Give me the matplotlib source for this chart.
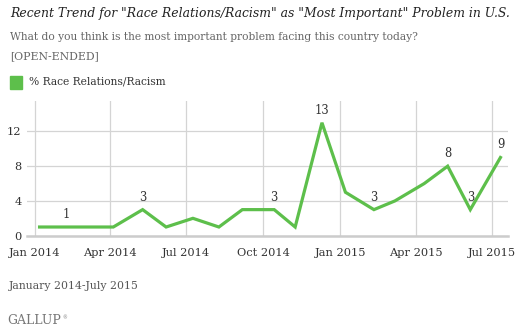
import matplotlib
matplotlib.use("Agg")
import matplotlib.pyplot as plt
import datetime as dt

# Monthly poll readings (approximate field-period midpoints)
dates = [
    "2014-01-07", "2014-02-08", "2014-03-08", "2014-04-05", "2014-05-10",
    "2014-06-07", "2014-07-09", "2014-08-09", "2014-09-06", "2014-10-14",
    "2014-11-08", "2014-12-10", "2015-01-07", "2015-02-10", "2015-03-07",
    "2015-04-11", "2015-05-09", "2015-06-05", "2015-07-11",
]
values = [1, 1, 1, 1, 3, 1, 2, 1, 3, 3, 1, 13, 5, 3, 4, 6, 8, 3, 9]

# Points that carry a value label
labelled = ["2014-02-08", "2014-05-10", "2014-10-14", "2014-12-10",
            "2015-02-10", "2015-05-09", "2015-06-05", "2015-07-11"]

tick_dates = ["2014-01-01", "2014-04-01", "2014-07-01", "2014-10-01",
              "2015-01-01", "2015-04-01", "2015-07-01"]
tick_labels = ["Jan 2014", "Apr 2014", "Jul 2014", "Oct 2014",
               "Jan 2015", "Apr 2015", "Jul 2015"]
y_ticks = [0, 4, 8, 12]

series_name = "% Race Relations/Racism"
title = 'Recent Trend for "Race Relations/Racism" as "Most Important" Problem in U.S.'
question = "What do you think is the most important problem facing this country today?"
note = "[OPEN-ENDED]"
period = "January 2014-July 2015"

GREEN = "#5dbf4b"
SERIF = ["DejaVu Serif"]

to_dt = lambda s: dt.datetime.strptime(s, "%Y-%m-%d")
x = [to_dt(d) for d in dates]

W, H = 525, 331
fig = plt.figure(figsize=(W / 100, H / 100), dpi=100)
plt.rcParams["font.family"] = SERIF

left, right, top, bottom = 27, 508, 101, 235.7
ax = fig.add_axes([left / W, 1 - bottom / H, (right - left) / W, (bottom - top) / H])

ax.set_xlim(to_dt("2013-12-23"), to_dt("2015-07-20"))
ax.set_ylim(0, 15.5)

ax.plot(x, values, color=GREEN, lw=2.3, solid_joinstyle="miter", zorder=3)

for d, v in zip(dates, values):
    if d in labelled:
        ax.annotate(str(v), (to_dt(d), v), xytext=(0, 9), textcoords="offset points",
                    ha="center", va="center", fontsize=8.3, color="#333333", zorder=4)

ax.set_xticks([to_dt(t) for t in tick_dates])
ax.set_xticklabels(tick_labels)
ax.set_yticks(y_ticks)
ax.tick_params(axis="x", length=0, pad=9, labelsize=8.2, labelcolor="#333333")
ax.tick_params(axis="y", length=0, pad=4, labelsize=8.2, labelcolor="#333333")

ax.grid(True, color="#d4d4d4", lw=0.9)
ax.set_axisbelow(True)
for s in ["top", "right", "left"]:
    ax.spines[s].set_visible(False)
ax.spines["bottom"].set_color("#cccccc")
ax.spines["bottom"].set_linewidth(1.8)


def px(xp, yp):
    return xp / W, 1 - yp / H


def fitted_text(xp, yp, s, width_px, size, **kw):
    """Place a text and scale its font so it spans width_px pixels."""
    t = fig.text(*px(xp, yp), s, fontsize=size, va="center", **kw)
    r = fig.canvas.get_renderer()
    w = t.get_window_extent(r).width
    t.set_fontsize(size * width_px / w)
    return t


fitted_text(10, 14, title, 498, 10, style="italic", color="#222222")
fitted_text(10, 37.5, question, 413, 8, color="#666666")
fitted_text(10, 56, note, 89, 8, color="#666666")

fig.patches.append(plt.Rectangle(px(10, 89), 12 / W, 13 / H, transform=fig.transFigure,
                                 color=GREEN, figure=fig))
fitted_text(29, 81.5, series_name, 137, 8, color="#333333")

fitted_text(9, 286, period, 131, 8, color="#555555")
fitted_text(7, 321, "GALLUP", 54, 9, color="#777777")
fig.text(*px(62, 318), "\u00ae", fontsize=3.5, color="#777777", va="center")

fig.savefig("out.png", dpi=100)
